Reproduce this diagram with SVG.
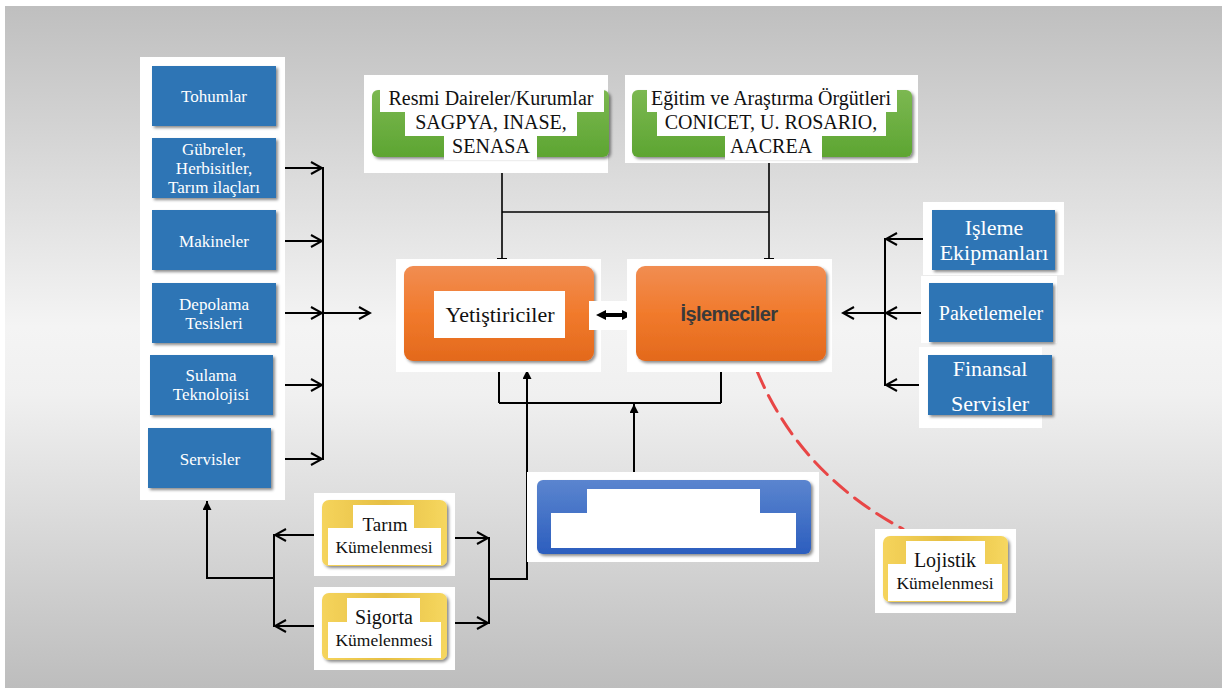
<svg xmlns="http://www.w3.org/2000/svg" width="1226" height="688" viewBox="0 0 1226 688">
<defs>
<linearGradient id="bg" x1="0" y1="0" x2="0" y2="1">
<stop offset="0" stop-color="#bfbfbf"/><stop offset="0.47" stop-color="#f4f4f4"/><stop offset="0.57" stop-color="#f0f0f0"/><stop offset="1" stop-color="#bdbdbd"/>
</linearGradient>
<linearGradient id="gOr" x1="0" y1="0" x2="0" y2="1">
<stop offset="0" stop-color="#f18d52"/><stop offset="0.5" stop-color="#f17a2c"/><stop offset="1" stop-color="#e3691c"/>
</linearGradient>
<linearGradient id="gGr" x1="0" y1="0" x2="0" y2="1">
<stop offset="0" stop-color="#7cb852"/><stop offset="1" stop-color="#5da531"/>
</linearGradient>
<linearGradient id="gYe" x1="0" y1="0" x2="1" y2="0">
<stop offset="0" stop-color="#f5d45c"/><stop offset="0.5" stop-color="#e6bf44"/><stop offset="1" stop-color="#f6d75f"/>
</linearGradient>
<linearGradient id="gBl" x1="0" y1="0" x2="0" y2="1">
<stop offset="0" stop-color="#5b85cf"/><stop offset="1" stop-color="#2c5ebe"/>
</linearGradient>
<filter id="sh" x="-10%" y="-10%" width="125%" height="130%">
<feDropShadow dx="2" dy="2" stdDeviation="1.5" flood-color="#000" flood-opacity="0.45"/>
</filter>
<marker id="chev" markerUnits="userSpaceOnUse" markerWidth="14" markerHeight="16" refX="12" refY="7" orient="auto" viewBox="0 0 14 14">
<path d="M1,1 L12,7 L1,13" fill="none" stroke="#000" stroke-width="2"/>
</marker>
<marker id="tri" markerUnits="userSpaceOnUse" markerWidth="9" markerHeight="9" refX="10" refY="5" orient="auto" viewBox="0 0 10 10">
<path d="M0,0 L10,5 L0,10 z" fill="#000"/>
</marker>
<marker id="triS" markerUnits="userSpaceOnUse" markerWidth="10" markerHeight="10" refX="6" refY="5" orient="auto-start-reverse" viewBox="0 0 10 10">
<path d="M0,0 L10,5 L0,10 z" fill="#000"/>
</marker>
<marker id="tee" markerUnits="userSpaceOnUse" markerWidth="3" markerHeight="10" refX="1.5" refY="5" orient="auto" viewBox="0 0 3 10">
<path d="M1.5,0 V10" stroke="#000" stroke-width="2"/>
</marker>
<style>
.wb{fill:#fff}
.blue{fill:#2e74b5;filter:url(#sh)}
.or{fill:url(#gOr);filter:url(#sh)}
.gr{fill:url(#gGr);filter:url(#sh)}
.ye{fill:url(#gYe);filter:url(#sh)}
.bl{fill:url(#gBl);filter:url(#sh)}
.tw{fill:#fff;text-anchor:middle}
.tk{fill:#111;text-anchor:middle}
.ln{fill:none;stroke:#000;stroke-width:2}
.lt{fill:none;stroke:#000;stroke-width:1.6}
</style>
</defs>
<rect x="0" y="0" width="1226" height="688" fill="#fff"/>
<rect x="5" y="6" width="1217" height="682" fill="url(#bg)"/>

<g id="connectors">
<line class="ln" x1="323" y1="167" x2="323" y2="460"/>
<line class="ln" x1="276" y1="168" x2="322" y2="168" marker-end="url(#chev)"/>
<line class="ln" x1="276" y1="241" x2="322" y2="241" marker-end="url(#chev)"/>
<line class="ln" x1="276" y1="313" x2="322" y2="313" marker-end="url(#chev)"/>
<line class="ln" x1="273" y1="385" x2="322" y2="385" marker-end="url(#chev)"/>
<line class="ln" x1="271" y1="459" x2="322" y2="459" marker-end="url(#chev)"/>
<line class="ln" x1="323" y1="313" x2="370" y2="313" marker-end="url(#chev)"/>
<line class="lt" x1="502" y1="173" x2="502" y2="259" marker-end="url(#tee)"/>
<line class="lt" x1="769" y1="163" x2="769" y2="259" marker-end="url(#tee)"/>
<line class="lt" x1="502" y1="212" x2="769" y2="212"/>
<path class="ln" d="M499,403 H721"/>
<line class="ln" x1="499" y1="403" x2="499" y2="363" marker-end="url(#tri)"/>
<line class="ln" x1="721" y1="403" x2="721" y2="363" marker-end="url(#tri)"/>
<line class="ln" x1="634" y1="472" x2="634" y2="404" marker-end="url(#tri)"/>
<path class="ln" d="M489,579 H527 V370" marker-end="url(#tri)"/>
<line class="ln" x1="489" y1="537" x2="489" y2="624"/>
<line class="ln" x1="450" y1="538" x2="488" y2="538" marker-end="url(#chev)"/>
<line class="ln" x1="450" y1="623" x2="488" y2="623" marker-end="url(#chev)"/>
<line class="ln" x1="322" y1="535" x2="275" y2="535" marker-end="url(#chev)"/>
<line class="ln" x1="322" y1="626" x2="275" y2="626" marker-end="url(#chev)"/>
<line class="ln" x1="274" y1="534" x2="274" y2="627"/>
<path class="ln" d="M274,578 H207 V501" marker-end="url(#tri)"/>
<line class="ln" x1="885" y1="238" x2="885" y2="386"/>
<line class="ln" x1="932" y1="239" x2="886" y2="239" marker-end="url(#chev)"/>
<line class="ln" x1="929" y1="313" x2="886" y2="313" marker-end="url(#chev)"/>
<line class="ln" x1="928" y1="385" x2="886" y2="385" marker-end="url(#chev)"/>
<line class="ln" x1="885" y1="313" x2="843" y2="313" marker-end="url(#chev)"/>
<path d="M757,371 Q800,474 903,529" fill="none" stroke="#e84646" stroke-width="3" stroke-dasharray="18 9" stroke-linecap="round"/>
</g>

<g font-family="Liberation Serif, DejaVu Serif, Times New Roman, serif">
<g id="left-panel"><rect class="wb" x="140" y="57" width="145" height="443"/></g>
<g id="tohumlar"><rect class="blue" x="152" y="66" width="124" height="60"/><text class="tw" x="214" y="102" font-size="17">Tohumlar</text></g>
<g id="gubreler"><rect class="blue" x="152" y="138" width="124" height="60"/>
<text class="tw" font-size="17"><tspan x="214" y="155">Gübreler,</tspan><tspan x="214" y="174">Herbisitler,</tspan><tspan x="214" y="193">Tarım ilaçları</tspan></text></g>
<g id="makineler"><rect class="blue" x="152" y="210" width="124" height="60"/><text class="tw" x="214" y="247" font-size="17">Makineler</text></g>
<g id="depolama"><rect class="blue" x="152" y="283" width="124" height="60"/>
<text class="tw" font-size="17"><tspan x="214" y="310">Depolama</tspan><tspan x="214" y="329">Tesisleri</tspan></text></g>
<g id="sulama"><rect class="blue" x="150" y="355" width="123" height="60"/>
<text class="tw" font-size="17"><tspan x="211" y="381">Sulama</tspan><tspan x="211" y="400">Teknolojisi</tspan></text></g>
<g id="servisler"><rect class="blue" x="148" y="428" width="123" height="60"/><text class="tw" x="210" y="465" font-size="17">Servisler</text></g>

<g id="resmi">
<rect class="wb" x="364" y="75" width="244" height="98"/>
<rect class="gr" x="372" y="90" width="237" height="67" rx="6"/>
<rect class="wb" x="380" y="85" width="224" height="27"/>
<rect class="wb" x="405" y="111" width="172" height="25"/>
<rect class="wb" x="444" y="134" width="93" height="26"/>
<text class="tk" font-size="20"><tspan x="491" y="105">Resmi Daireler/Kurumlar</tspan><tspan x="491" y="129">SAGPYA, INASE,</tspan><tspan x="491" y="153">SENASA</tspan></text>
</g>
<g id="egitim">
<rect class="wb" x="625" y="75" width="293" height="88"/>
<rect class="gr" x="632" y="90" width="280" height="67" rx="6"/>
<rect class="wb" x="647" y="85" width="250" height="27"/>
<rect class="wb" x="657" y="111" width="229" height="25"/>
<rect class="wb" x="725" y="134" width="97" height="26"/>
<text class="tk" font-size="20"><tspan x="771" y="105">Eğitim ve Araştırma Örgütleri</tspan><tspan x="771" y="129">CONICET, U. ROSARIO,</tspan><tspan x="771" y="153">AACREA</tspan></text>
</g>

<g id="yetistiriciler">
<rect class="wb" x="396" y="259" width="205" height="113"/>
<rect class="or" x="404" y="266" width="190" height="95" rx="9"/>
<rect class="wb" x="434" y="291" width="131" height="47"/>
<text class="tk" x="500" y="322" font-size="22">Yetiştiriciler</text>
</g>
<g id="double-arrow">
<rect class="wb" x="589" y="301" width="51" height="29"/>
<line x1="600" y1="315" x2="628" y2="315" stroke="#000" stroke-width="4" marker-start="url(#triS)" marker-end="url(#triS)"/>
</g>
<g id="islemeciler">
<rect class="wb" x="627" y="259" width="205" height="113"/>
<rect class="or" x="636" y="266" width="190" height="95" rx="9"/>
<text x="729" y="321" font-size="20" font-weight="bold" font-family="Liberation Sans, Arial, sans-serif" fill="#3a3a3a" text-anchor="middle" letter-spacing="-0.6">İşlemeciler</text>
</g>

<g id="isleme-ekipmanlari">
<rect class="wb" x="923" y="202" width="141" height="73"/>
<rect class="blue" x="932" y="210" width="123" height="60"/>
<text class="tw" font-size="22"><tspan x="994" y="235">Işleme</tspan><tspan x="994" y="260">Ekipmanları</tspan></text>
</g>
<g id="paketlemeler">
<rect class="wb" x="921" y="276" width="136" height="67"/>
<rect class="blue" x="929" y="283" width="124" height="59"/>
<text class="tw" x="991" y="320" font-size="20">Paketlemeler</text>
</g>
<g id="finansal">
<rect class="wb" x="919" y="347" width="123" height="81"/>
<rect class="blue" x="928" y="355" width="124" height="60"/>
<text class="tw" font-size="22"><tspan x="990" y="376">Finansal</tspan><tspan x="990" y="411">Servisler</tspan></text>
</g>

<g id="blue-box">
<rect class="wb" x="527" y="472" width="292" height="90"/>
<rect class="bl" x="537" y="480" width="274" height="74" rx="6"/>
<rect class="wb" x="587" y="489" width="173" height="25"/>
<rect class="wb" x="551" y="513" width="245" height="35"/>
</g>

<g id="tarim">
<rect class="wb" x="314" y="493" width="141" height="83"/>
<rect class="ye" x="322" y="500" width="125" height="66" rx="7"/>
<rect class="wb" x="353" y="505" width="61" height="24"/>
<rect class="wb" x="328" y="528" width="113" height="37"/>
<text class="tk" x="385" y="531" font-size="19">Tarım</text>
<text class="tk" x="384" y="553" font-size="17.5">Kümelenmesi</text>
</g>
<g id="sigorta">
<rect class="wb" x="314" y="587" width="141" height="83"/>
<rect class="ye" x="322" y="593" width="125" height="67" rx="7"/>
<rect class="wb" x="347" y="598" width="73" height="25"/>
<rect class="wb" x="328" y="622" width="113" height="36"/>
<text class="tk" x="384" y="624" font-size="20">Sigorta</text>
<text class="tk" x="384" y="646" font-size="17.5">Kümelenmesi</text>
</g>
<g id="lojistik">
<rect class="wb" x="875" y="529" width="141" height="84"/>
<rect class="ye" x="883" y="536" width="125" height="66" rx="7"/>
<rect class="wb" x="906" y="541" width="79" height="24"/>
<rect class="wb" x="888" y="564" width="114" height="37"/>
<text class="tk" x="945" y="567" font-size="20">Lojistik</text>
<text class="tk" x="945" y="589" font-size="17.5">Kümelenmesi</text>
</g>
</g>
</svg>
